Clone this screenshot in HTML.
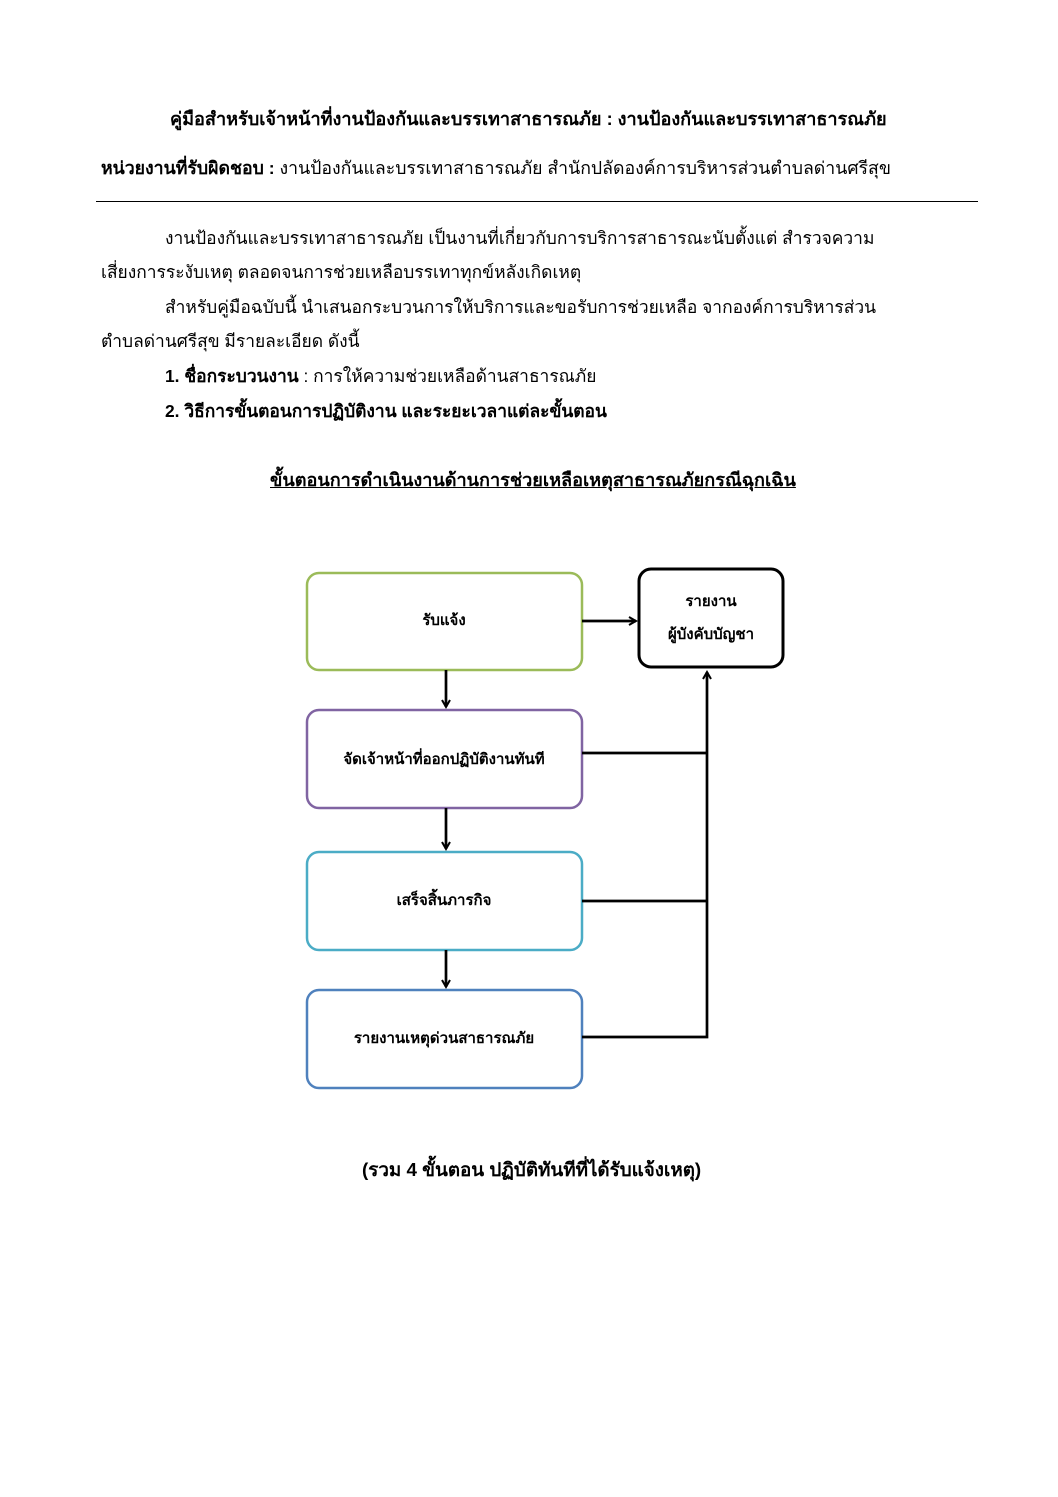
<!DOCTYPE html>
<html><head><meta charset="utf-8"><style>
body{margin:0;width:1058px;height:1497px;background:#fff;position:relative;font-family:"Liberation Sans","DejaVu Sans",sans-serif;color:#000;overflow:hidden}
.t{position:absolute;white-space:nowrap;font-size:17.4px;line-height:20px}
b{font-weight:bold}
</style></head><body>
<div class="t" style="left:170px;top:109px;font-weight:bold;font-size:18.1px">คู่มือสำหรับเจ้าหน้าที่งานป้องกันและบรรเทาสาธารณภัย : งานป้องกันและบรรเทาสาธารณภัย</div>
<div class="t" style="left:101px;top:158px;font-size:17.7px"><b>หน่วยงานที่รับผิดชอบ :</b> งานป้องกันและบรรเทาสาธารณภัย สำนักปลัดองค์การบริหารส่วนตำบลด่านศรีสุข</div>
<div style="position:absolute;left:96px;top:201px;width:882px;height:1px;background:#000"></div>
<div class="t" style="left:165px;top:228px">งานป้องกันและบรรเทาสาธารณภัย เป็นงานที่เกี่ยวกับการบริการสาธารณะนับตั้งแต่ สำรวจความ</div>
<div class="t" style="left:101px;top:262px">เสี่ยงการระงับเหตุ ตลอดจนการช่วยเหลือบรรเทาทุกข์หลังเกิดเหตุ</div>
<div class="t" style="left:165px;top:297px">สำหรับคู่มือฉบับนี้ นำเสนอกระบวนการให้บริการและขอรับการช่วยเหลือ จากองค์การบริหารส่วน</div>
<div class="t" style="left:101px;top:331px">ตำบลด่านศรีสุข มีรายละเอียด ดังนี้</div>
<div class="t" style="left:165px;top:366px"><b>1. ชื่อกระบวนงาน</b> : การให้ความช่วยเหลือด้านสาธารณภัย</div>
<div class="t" style="left:165px;top:401px;font-weight:bold">2. วิธีการขั้นตอนการปฏิบัติงาน และระยะเวลาแต่ละขั้นตอน</div>
<div class="t" style="left:270px;top:470px;font-weight:bold;text-decoration:underline;font-size:18.1px">ขั้นตอนการดำเนินงานด้านการช่วยเหลือเหตุสาธารณภัยกรณีฉุกเฉิน</div>
<svg style="position:absolute;left:0;top:0" width="1058" height="1497">
<defs><marker id="a" markerWidth="10" markerHeight="10" refX="8" refY="5" orient="auto" markerUnits="userSpaceOnUse"><path d="M1,1 L8,5 L1,9" fill="none" stroke="#000" stroke-width="2"/></marker></defs>
<g fill="#fff" stroke-width="2.5">
<rect x="307" y="573" width="275" height="97" rx="12" stroke="#9bbb59"/>
<rect x="307" y="710" width="275" height="98" rx="12" stroke="#8064a2"/>
<rect x="307" y="852" width="275" height="98" rx="12" stroke="#4bacc6"/>
<rect x="307" y="990" width="275" height="98" rx="12" stroke="#4f81bd"/>
<rect x="639" y="569" width="144" height="98" rx="12" stroke="#000" stroke-width="3"/>
</g>
<g stroke="#000" stroke-width="2.7" fill="none">
<line x1="582" y1="621" x2="636" y2="621" marker-end="url(#a)"/>
<line x1="446" y1="670" x2="446" y2="707" marker-end="url(#a)"/>
<line x1="446" y1="808" x2="446" y2="849" marker-end="url(#a)"/>
<line x1="446" y1="950" x2="446" y2="987" marker-end="url(#a)"/>
<polyline points="582,1037 707,1037 707,672" marker-end="url(#a)"/>
<line x1="582" y1="753" x2="707" y2="753"/>
<line x1="582" y1="901" x2="707" y2="901"/>
</g>
<g font-family="Liberation Sans, DejaVu Sans, sans-serif" font-size="15" text-anchor="middle" font-weight="bold">
<text x="444" y="625">รับแจ้ง</text>
<text x="444" y="764">จัดเจ้าหน้าที่ออกปฏิบัติงานทันที</text>
<text x="444" y="905">เสร็จสิ้นภารกิจ</text>
<text x="444" y="1043">รายงานเหตุด่วนสาธารณภัย</text>
<text x="711" y="606">รายงาน</text>
<text x="711" y="639">ผู้บังคับบัญชา</text>
</g>
</svg>
<div class="t" style="left:362px;top:1160px;font-weight:bold;font-size:18.8px">(รวม 4 ขั้นตอน ปฏิบัติทันทีที่ได้รับแจ้งเหตุ)</div>
</body></html>
